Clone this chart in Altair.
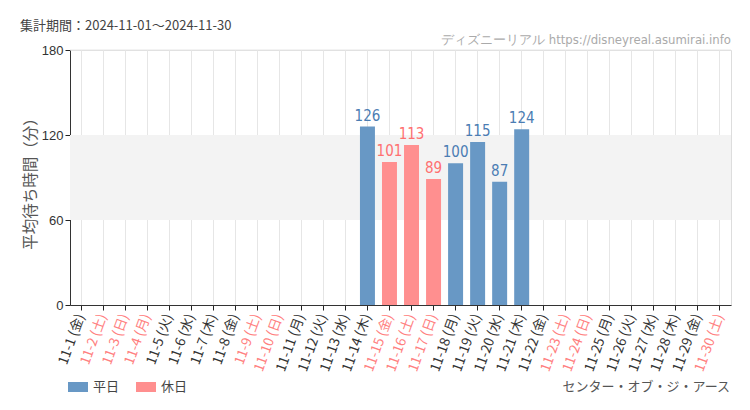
import altair as alt
import pandas as pd

days = [f"11-{d}" for d in range(1, 31)]
weekdays = ["金","土","日","月","火","水","木","金","土","日","月","火","水","木","金",
            "土","日","月","火","水","木","金","土","日","月","火","水","木","金","土"]
holidays = ["11-2","11-3","11-4","11-9","11-10","11-15","11-16","11-17","11-23","11-24","11-30"]
wait_values = [None]*13 + [126, 101, 113, 89, 100, 115, 87, 124] + [None]*9

labels = [f"{d} ({w})" for d, w in zip(days, weekdays)]
kinds = ["休日" if d in holidays else "平日" for d in days]
holiday_labels = [l for l, k in zip(labels, kinds) if k == "休日"]

df = pd.DataFrame({"day": labels, "value": wait_values, "kind": kinds})
bars_df = df.dropna()

W, H = 661, 255
BLUE, PINK = "#6898c5", "#ff8f8f"
BLUE_T, PINK_T = "#4b7db3", "#ff7070"
JP = "Noto Sans CJK JP"
COND = "DejaVu Sans Condensed, Liberation Sans Narrow, sans-serif"

hol_list = "[" + ",".join(f"'{l}'" for l in holiday_labels) + "]"

xscale = alt.Scale(domain=labels, paddingInner=0.32, paddingOuter=0.16)
yscale = alt.Scale(domain=[0, 180])

base = alt.Chart(df)

band = alt.Chart(pd.DataFrame({"lo": [60], "hi": [120]})).mark_rect(color="#f3f3f3").encode(
    y=alt.Y("lo:Q", scale=yscale), y2="hi:Q", x=alt.value(0), x2=alt.value(W)
)

top_rule = alt.Chart(pd.DataFrame({"v": [180]})).mark_rule(color="#e6e6e6").encode(
    y=alt.Y("v:Q", scale=yscale), x=alt.value(0), x2=alt.value(W)
)

bars = base.mark_bar(opacity=1).encode(
    x=alt.X("day:N", scale=xscale, sort=labels,
            axis=alt.Axis(title=None, labelAngle=-70, labelAlign="right", labelBaseline="middle",
                          labelFont=JP, labelFontSize=13.5, labelPadding=4,
                          labelColor=alt.ExprRef(expr=f"indexof({hol_list}, datum.value) >= 0 ? '#ff8080' : '#333333'"),
                          domainColor="#333", tickColor="#222", tickSize=5,
                          grid=True, gridColor="#e6e6e6", labelOverlap=False)),
    y=alt.Y("value:Q", scale=yscale,
            axis=alt.Axis(title="平均待ち時間（分）", values=[0, 60, 120, 180], grid=False,
                          labelFont="Liberation Sans", labelFontSize=13, labelColor="#333",
                          domainColor="#333", tickColor="#222", tickSize=5, labelPadding=2,
                          titleFont=JP, titleFontSize=15.5, titleColor="#555", titleFontWeight="normal",
                          titleX=-40, titleY=H/2 + 2, titleAlign="center", titleBaseline="middle")),
    color=alt.Color("kind:N", scale=alt.Scale(domain=["平日", "休日"], range=[BLUE, PINK]),
                    legend=alt.Legend(title=None, orient="none", legendX=-2, legendY=327,
                                      direction="horizontal", symbolType="M-1,-0.5H1V0.5H-1Z",
                                      symbolSize=400, symbolStrokeWidth=0, symbolOpacity=1,
                                      labelFont=JP, labelFontSize=13, labelColor="#444",
                                      labelOffset=5, columnPadding=16, padding=0)),
)

texts = alt.Chart(bars_df).mark_text(baseline="bottom", dy=-3, font=COND, fontSize=15).encode(
    x=alt.X("day:N", scale=xscale, sort=labels),
    y=alt.Y("value:Q", scale=yscale),
    text=alt.Text("value:Q", format="d"),
    color=alt.Color("kind:N", scale=alt.Scale(domain=["平日", "休日"], range=[BLUE_T, PINK_T]), legend=None),
)

period = alt.Chart(pd.DataFrame({"t": ["集計期間：2024-11-01～2024-11-30"]})).mark_text(
    align="left", baseline="alphabetic", font=JP, fontSize=13, color="#444"
).encode(text="t:N", x=alt.value(-50), y=alt.value(-20))

source = alt.Chart(pd.DataFrame({"t": ["ディズニーリアル https://disneyreal.asumirai.info"]})).mark_text(
    align="right", baseline="alphabetic", font=COND, fontSize=13, color="#aaaaaa"
).encode(text="t:N", x=alt.value(W), y=alt.value(-6))

attraction = alt.Chart(pd.DataFrame({"t": ["センター・オブ・ジ・アース"]})).mark_text(
    align="right", baseline="alphabetic", font=JP, fontSize=13, color="#555"
).encode(text="t:N", x=alt.value(W - 1), y=alt.value(341))

chart = alt.layer(band, top_rule, bars, texts, period, source, attraction).resolve_scale(
    color="independent"
).properties(
    width=W, height=H,
    autosize=alt.AutoSizeParams(type="none"),
    padding={"left": 62, "top": 42, "right": 5, "bottom": 95},
).configure_view(stroke=None).configure(background="white")

chart.save("out.html", embed_options={"renderer": "svg", "actions": False})
